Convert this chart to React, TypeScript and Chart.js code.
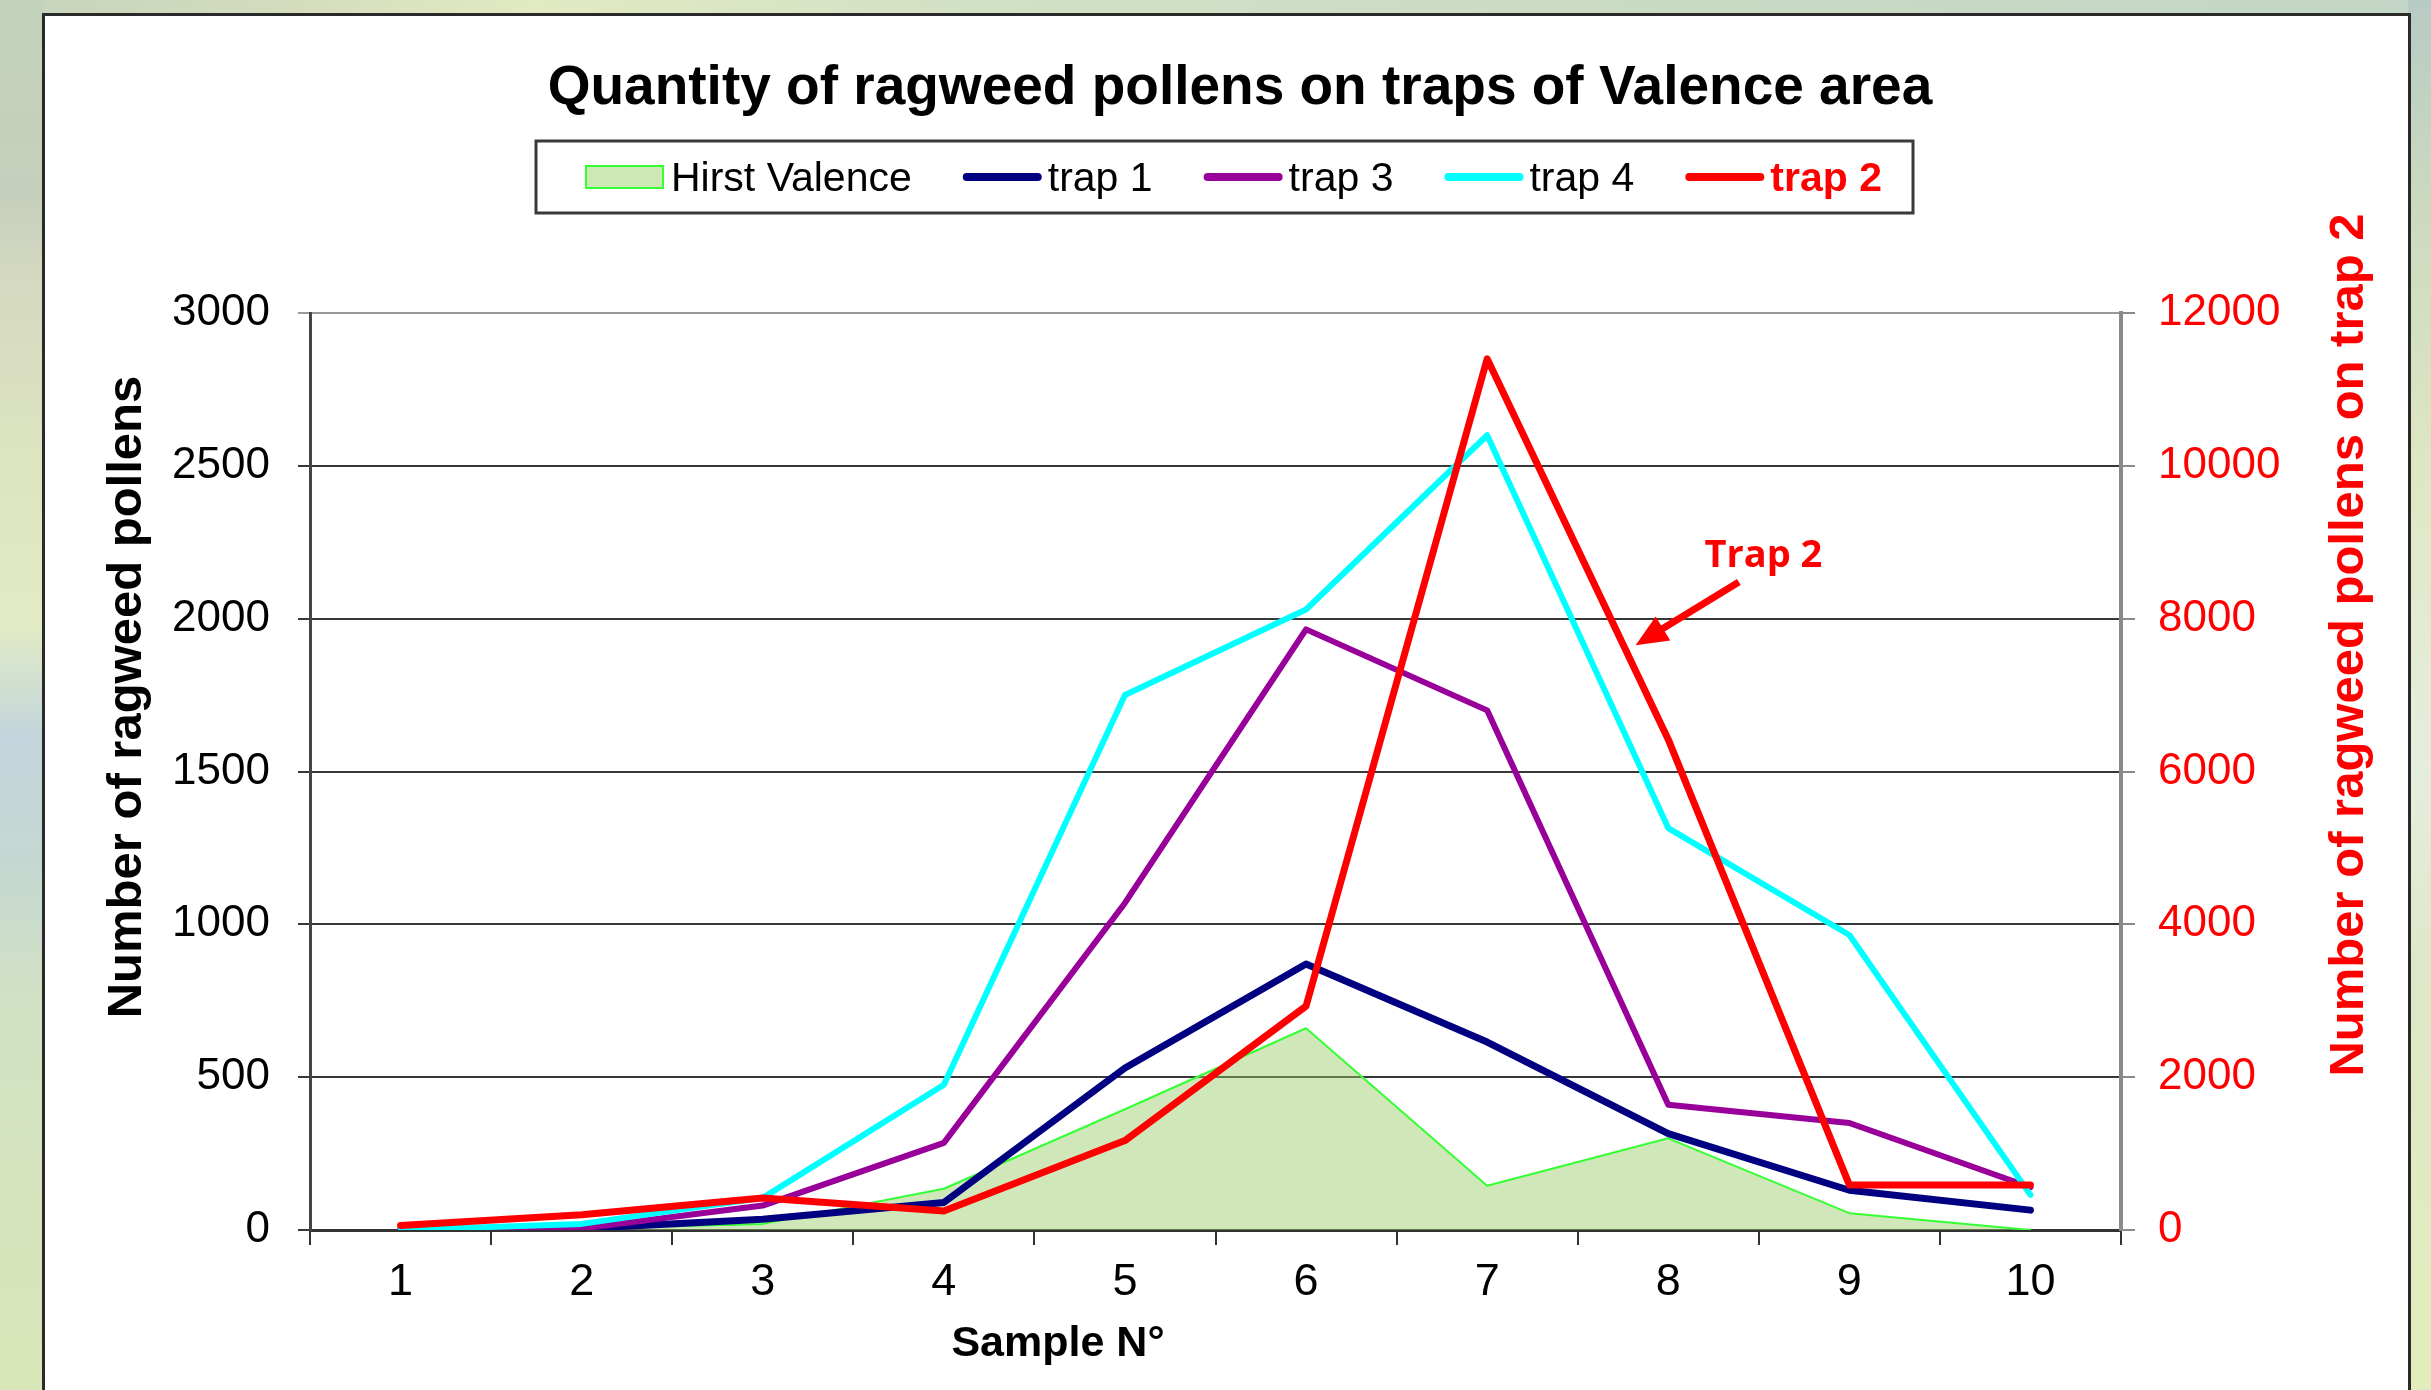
import React, { useEffect, useRef } from 'react';
import { Chart, registerables } from 'chart.js';

Chart.register(...registerables);

// ---------- data ----------
const samples = ['1', '2', '3', '4', '5', '6', '7', '8', '9', '10'];
const hirstValence = [0, 5, 20, 135, 395, 660, 145, 300, 55, 0];
const trap1 = [0, 5, 35, 90, 530, 870, 615, 315, 130, 65];
const trap3 = [0, 5, 80, 285, 1070, 1965, 1700, 410, 350, 140];
const trap4 = [0, 20, 105, 475, 1750, 2030, 2600, 1315, 965, 115];
const trap2 = [60, 200, 420, 250, 1170, 2930, 11400, 6420, 590, 590];

const leftAxisMax = 3000;
const leftAxisStep = 500;
const rightAxisMax = 12000;
const rightAxisStep = 2000;

const seriesNames = ['Hirst Valence', 'trap 1', 'trap 3', 'trap 4', 'trap 2'];
const titleText = 'Quantity of ragweed pollens on traps of Valence area';
const xTitleText = 'Sample N°';
const yTitleText = 'Number of ragweed pollens';
const y1TitleText = 'Number of ragweed pollens on trap 2';
const annotationText = 'Trap 2';

const FONT = '"Liberation Sans", Arial, sans-serif';
const RED = '#ff0000';

const decorPlugin = {
  id: 'decor',
  afterDraw(chart: any) {
    const ctx = chart.ctx as CanvasRenderingContext2D;
    const xs = chart.scales.x;
    const yl = chart.scales.y;
    ctx.save();

    // Title
    ctx.fillStyle = '#000';
    ctx.font = `bold 55px ${FONT}`;
    ctx.textAlign = 'center';
    ctx.textBaseline = 'alphabetic';
    ctx.fillText(titleText, 1240, 104);

    // Legend box
    ctx.strokeStyle = '#3a3a3a';
    ctx.lineWidth = 3;
    ctx.strokeRect(536, 141, 1377, 72);

    const ds = chart.data.datasets;
    let lx = 586;
    const midY = 177;
    ctx.textAlign = 'left';
    for (let i = 0; i < ds.length; i++) {
      const d = ds[i];
      if (d.fill) {
        ctx.fillStyle = '#cde8b4';
        ctx.fillRect(lx, 166, 77, 22);
        ctx.strokeStyle = d.borderColor;
        ctx.lineWidth = 2;
        ctx.strokeRect(lx, 166, 77, 22);
      } else {
        ctx.strokeStyle = d.borderColor;
        ctx.lineWidth = 8;
        ctx.lineCap = 'round';
        ctx.beginPath();
        ctx.moveTo(lx + 4, midY);
        ctx.lineTo(lx + 75, midY);
        ctx.stroke();
      }
      lx += 79 + 6;
      const isRed = d.label === 'trap 2';
      ctx.font = isRed ? `bold 41px ${FONT}` : `41px ${FONT}`;
      ctx.fillStyle = isRed ? RED : '#000';
      ctx.fillText(d.label, lx, 191);
      lx += ctx.measureText(d.label).width + 51;
    }

    // Axis titles
    ctx.font = `bold 49px ${FONT}`;
    ctx.textAlign = 'center';
    ctx.textBaseline = 'middle';
    ctx.fillStyle = '#000';
    ctx.save();
    ctx.translate(127, 697);
    ctx.rotate(-Math.PI / 2);
    ctx.fillText(yTitleText, 0, 0);
    ctx.restore();

    ctx.fillStyle = RED;
    ctx.save();
    ctx.translate(2349, 645);
    ctx.rotate(-Math.PI / 2);
    ctx.fillText(y1TitleText, 0, 0);
    ctx.restore();

    ctx.fillStyle = '#000';
    ctx.font = `bold 43px ${FONT}`;
    ctx.textBaseline = 'alphabetic';
    ctx.fillText(xTitleText, 1058, 1356);

    // Annotation "Trap 2" with arrow
    ctx.fillStyle = RED;
    ctx.strokeStyle = RED;
    ctx.font = `bold 38px "Open Sans", ${FONT}`;
    ctx.textAlign = 'left';
    ctx.fillText(annotationText, xs.getPixelForValue(7.2), yl.getPixelForValue(2169));

    const tailX = xs.getPixelForValue(7.39);
    const tailY = yl.getPixelForValue(2120);
    const tipX = xs.getPixelForValue(6.82);
    const tipY = yl.getPixelForValue(1913);
    const dx = tipX - tailX;
    const dy = tipY - tailY;
    const len = Math.hypot(dx, dy);
    const ux = dx / len;
    const uy = dy / len;
    const headLen = 32;
    const headW = 14;
    const bx = tipX - ux * headLen;
    const by = tipY - uy * headLen;
    ctx.lineWidth = 7;
    ctx.lineCap = 'butt';
    ctx.beginPath();
    ctx.moveTo(tailX, tailY);
    ctx.lineTo(bx + ux * 2, by + uy * 2);
    ctx.stroke();
    ctx.beginPath();
    ctx.moveTo(tipX, tipY);
    ctx.lineTo(bx - uy * headW, by + ux * headW);
    ctx.lineTo(bx + uy * headW, by - ux * headW);
    ctx.closePath();
    ctx.fill();

    ctx.restore();
  },
};

export default function App() {
  const canvasRef = useRef<HTMLCanvasElement | null>(null);

  useEffect(() => {
    if (!canvasRef.current) return;
    Chart.defaults.font.family = FONT;
    const lineBase = {
      pointRadius: 0,
      pointHoverRadius: 0,
      tension: 0,
      fill: false,
      borderJoinStyle: 'round' as const,
      borderCapStyle: 'round' as const,
    };
    const plainTick = (v: any) => String(v);
    const chart = new Chart(canvasRef.current, {
      type: 'line',
      data: {
        labels: samples,
        datasets: [
          {
            ...lineBase,
            label: seriesNames[0],
            data: hirstValence,
            borderColor: '#33ff33',
            backgroundColor: 'rgba(150, 205, 100, 0.45)',
            borderWidth: 2,
            fill: 'origin',
            yAxisID: 'y',
            order: 4,
          },
          {
            ...lineBase,
            label: seriesNames[1],
            data: trap1,
            borderColor: '#000080',
            backgroundColor: '#000080',
            borderWidth: 7,
            yAxisID: 'y',
            order: 3,
          },
          {
            ...lineBase,
            label: seriesNames[2],
            data: trap3,
            borderColor: '#990099',
            backgroundColor: '#990099',
            borderWidth: 6,
            yAxisID: 'y',
            order: 2,
          },
          {
            ...lineBase,
            label: seriesNames[3],
            data: trap4,
            borderColor: '#00ffff',
            backgroundColor: '#00ffff',
            borderWidth: 6,
            yAxisID: 'y',
            order: 1,
          },
          {
            ...lineBase,
            label: seriesNames[4],
            data: trap2,
            borderColor: RED,
            backgroundColor: RED,
            borderWidth: 7,
            yAxisID: 'y1',
            order: 0,
          },
        ],
      },
      options: {
        responsive: false,
        animation: false,
        events: [],
        layout: { padding: { top: 313, left: 0, right: 0, bottom: 0 } },
        plugins: {
          legend: { display: false },
          title: { display: false },
          tooltip: { enabled: false },
        },
        scales: {
          x: {
            type: 'category',
            offset: true,
            afterFit: (s: any) => {
              s.height = 160;
            },
            grid: {
              offset: true,
              drawOnChartArea: false,
              drawTicks: true,
              tickLength: 15,
              color: '#333',
              lineWidth: 2,
            },
            border: { display: true, color: '#333', width: 3 },
            ticks: {
              font: { size: 45, family: FONT },
              color: '#000',
              padding: 11,
              maxRotation: 0,
              autoSkip: false,
            },
          },
          y: {
            type: 'linear',
            position: 'left',
            min: 0,
            max: leftAxisMax,
            afterFit: (s: any) => {
              s.width = 310;
            },
            grid: {
              color: (c: any) => (c.tick && c.tick.value === leftAxisMax ? '#9a9a9a' : '#383838'),
              lineWidth: 2,
              drawTicks: true,
              tickLength: 12,
            },
            border: { display: true, color: '#444', width: 3 },
            ticks: {
              stepSize: leftAxisStep,
              font: { size: 44, family: FONT },
              color: '#000',
              padding: 28,
              callback: plainTick,
            },
          },
          y1: {
            type: 'linear',
            position: 'right',
            min: 0,
            max: rightAxisMax,
            afterFit: (s: any) => {
              s.width = 310;
            },
            grid: {
              drawOnChartArea: false,
              drawTicks: true,
              tickLength: 14,
              color: '#8a8a8a',
              lineWidth: 2,
            },
            border: { display: true, color: '#8a8a8a', width: 4 },
            ticks: {
              stepSize: rightAxisStep,
              font: { size: 44, family: FONT },
              color: RED,
              padding: 23,
              callback: plainTick,
            },
          },
        },
      },
      plugins: [decorPlugin],
    } as any);
    return () => chart.destroy();
  }, []);

  return (
    <div
      style={{
        position: 'fixed',
        left: 0,
        top: 0,
        width: 2431,
        height: 1390,
        overflow: 'hidden',
        background:
          'linear-gradient(90deg, #c5d4bc 0%, #d4dcbd 12%, #e2eac3 22%, #d2e0c4 40%, #c9dac3 70%, #c3d5c6 100%)',
      }}
    >
      <div
        style={{
          position: 'absolute',
          left: 0,
          top: 0,
          width: 44,
          height: 1390,
          background:
            'linear-gradient(180deg, #c3d2bb 0%, #c6cfbb 14%, #d5d9c0 20%, #dde6c0 35%, #e2ebc5 45%, #c2d5dc 53%, #c4d8d2 62%, #d2e1c3 72%, #d8e6b8 100%)',
        }}
      />
      <div
        style={{
          position: 'absolute',
          left: 2408,
          top: 0,
          width: 23,
          height: 1390,
          background:
            'linear-gradient(180deg, #b7cbc5 0%, #cbdabe 15%, #dfe8c4 35%, #e5eedd 55%, #dde8c8 70%, #e2edbb 100%)',
        }}
      />
      <div
        style={{
          position: 'absolute',
          left: 42,
          top: 13,
          width: 2369,
          height: 1420,
          background: '#ffffff',
          border: '3px solid #2a2a2a',
          boxSizing: 'border-box',
        }}
      />
      <canvas
        ref={canvasRef}
        width={2431}
        height={1390}
        style={{ position: 'absolute', left: 0, top: 0, width: 2431, height: 1390, display: 'block' }}
      />
    </div>
  );
}
